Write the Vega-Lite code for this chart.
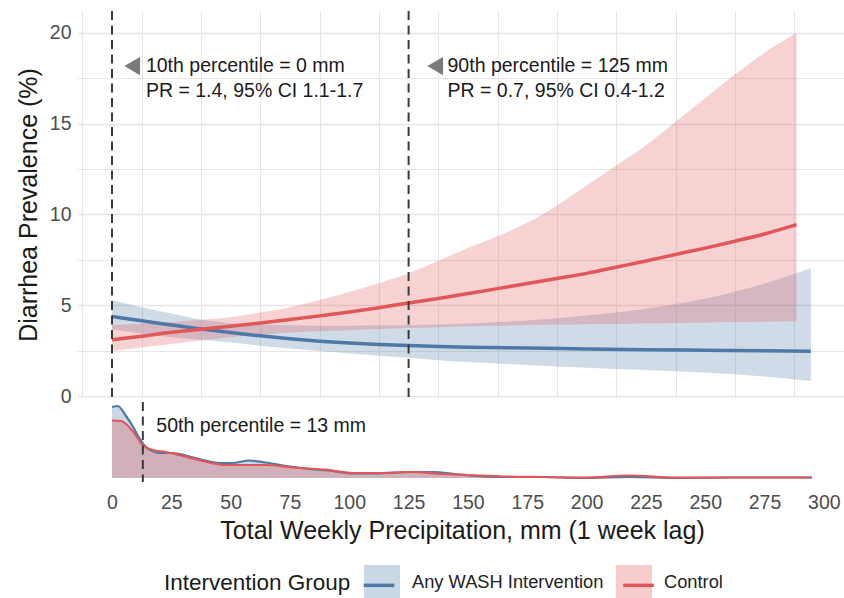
{
  "$schema": "https://vega.github.io/schema/vega-lite/v6.json",
  "padding": {"left": 16, "top": 10, "right": 0, "bottom": 0},
  "bounds": "flush",
  "config": {
    "font": "Liberation Sans",
    "view": {"stroke": null},
    "axis": {"labelColor": "#4d4d4d", "titleColor": "#1a1a1a", "titleFontWeight": "normal", "domain": false, "ticks": false, "labelFont": "Liberation Sans", "titleFont": "Liberation Sans"}
  },
  "datasets": {
    "curves": [
      {"group": "Any WASH Intervention", "x": 0, "est": 4.38, "lo": 3.68, "hi": 5.28},
      {"group": "Any WASH Intervention", "x": 12.5, "est": 4.15, "lo": 3.45, "hi": 4.9},
      {"group": "Any WASH Intervention", "x": 25, "est": 3.92, "lo": 3.25, "hi": 4.55},
      {"group": "Any WASH Intervention", "x": 37.5, "est": 3.7, "lo": 3.1, "hi": 4.22},
      {"group": "Any WASH Intervention", "x": 50, "est": 3.5, "lo": 2.95, "hi": 4.02},
      {"group": "Any WASH Intervention", "x": 62.5, "est": 3.32, "lo": 2.78, "hi": 3.95},
      {"group": "Any WASH Intervention", "x": 75, "est": 3.16, "lo": 2.62, "hi": 3.9},
      {"group": "Any WASH Intervention", "x": 87.5, "est": 3.03, "lo": 2.48, "hi": 3.88},
      {"group": "Any WASH Intervention", "x": 100, "est": 2.93, "lo": 2.35, "hi": 3.88},
      {"group": "Any WASH Intervention", "x": 112.5, "est": 2.85, "lo": 2.23, "hi": 3.9},
      {"group": "Any WASH Intervention", "x": 125, "est": 2.79, "lo": 2.12, "hi": 3.92},
      {"group": "Any WASH Intervention", "x": 137.5, "est": 2.74, "lo": 1.98, "hi": 3.95},
      {"group": "Any WASH Intervention", "x": 150, "est": 2.7, "lo": 1.88, "hi": 4.0},
      {"group": "Any WASH Intervention", "x": 175, "est": 2.65, "lo": 1.72, "hi": 4.17},
      {"group": "Any WASH Intervention", "x": 200, "est": 2.6, "lo": 1.57, "hi": 4.44},
      {"group": "Any WASH Intervention", "x": 225, "est": 2.56, "lo": 1.44, "hi": 4.81},
      {"group": "Any WASH Intervention", "x": 250, "est": 2.53, "lo": 1.3, "hi": 5.37},
      {"group": "Any WASH Intervention", "x": 275, "est": 2.5, "lo": 1.08, "hi": 6.2},
      {"group": "Any WASH Intervention", "x": 294.5, "est": 2.47, "lo": 0.83, "hi": 7.04},
      {"group": "Control", "x": 0, "est": 3.11, "lo": 2.5, "hi": 3.9},
      {"group": "Control", "x": 12.5, "est": 3.3, "lo": 2.68, "hi": 3.98},
      {"group": "Control", "x": 25, "est": 3.52, "lo": 2.87, "hi": 4.07},
      {"group": "Control", "x": 37.5, "est": 3.68, "lo": 3.06, "hi": 4.2},
      {"group": "Control", "x": 50, "est": 3.85, "lo": 3.24, "hi": 4.35},
      {"group": "Control", "x": 62.5, "est": 4.03, "lo": 3.38, "hi": 4.6},
      {"group": "Control", "x": 75, "est": 4.22, "lo": 3.5, "hi": 4.9},
      {"group": "Control", "x": 87.5, "est": 4.42, "lo": 3.57, "hi": 5.3},
      {"group": "Control", "x": 100, "est": 4.63, "lo": 3.63, "hi": 5.74},
      {"group": "Control", "x": 112.5, "est": 4.87, "lo": 3.7, "hi": 6.22},
      {"group": "Control", "x": 125, "est": 5.13, "lo": 3.75, "hi": 6.76},
      {"group": "Control", "x": 137.5, "est": 5.38, "lo": 3.8, "hi": 7.45},
      {"group": "Control", "x": 150, "est": 5.65, "lo": 3.85, "hi": 8.15},
      {"group": "Control", "x": 162.5, "est": 5.92, "lo": 3.88, "hi": 8.8},
      {"group": "Control", "x": 175, "est": 6.2, "lo": 3.92, "hi": 9.54},
      {"group": "Control", "x": 187.5, "est": 6.48, "lo": 3.94, "hi": 10.5},
      {"group": "Control", "x": 200, "est": 6.76, "lo": 3.96, "hi": 11.6},
      {"group": "Control", "x": 212.5, "est": 7.1, "lo": 3.98, "hi": 12.7},
      {"group": "Control", "x": 225, "est": 7.44, "lo": 4.0, "hi": 13.8},
      {"group": "Control", "x": 237.5, "est": 7.8, "lo": 4.03, "hi": 15.1},
      {"group": "Control", "x": 250, "est": 8.15, "lo": 4.05, "hi": 16.4},
      {"group": "Control", "x": 262.5, "est": 8.53, "lo": 4.08, "hi": 17.7},
      {"group": "Control", "x": 275, "est": 8.93, "lo": 4.1, "hi": 18.9},
      {"group": "Control", "x": 288.5, "est": 9.44, "lo": 4.13, "hi": 20.0}
    ],
    "dens": [
      {"group": "Any WASH Intervention", "x": 0, "density": 0.0355},
      {"group": "Any WASH Intervention", "x": 2.4, "density": 0.036},
      {"group": "Any WASH Intervention", "x": 5.9, "density": 0.031},
      {"group": "Any WASH Intervention", "x": 8.7, "density": 0.026},
      {"group": "Any WASH Intervention", "x": 11.5, "density": 0.02},
      {"group": "Any WASH Intervention", "x": 14.3, "density": 0.0155},
      {"group": "Any WASH Intervention", "x": 17.1, "density": 0.0135},
      {"group": "Any WASH Intervention", "x": 19.9, "density": 0.0125},
      {"group": "Any WASH Intervention", "x": 25.5, "density": 0.0125},
      {"group": "Any WASH Intervention", "x": 31.1, "density": 0.01125},
      {"group": "Any WASH Intervention", "x": 38.2, "density": 0.009},
      {"group": "Any WASH Intervention", "x": 45.2, "density": 0.0075},
      {"group": "Any WASH Intervention", "x": 50.8, "density": 0.0075},
      {"group": "Any WASH Intervention", "x": 57.8, "density": 0.00875},
      {"group": "Any WASH Intervention", "x": 64.8, "density": 0.00775},
      {"group": "Any WASH Intervention", "x": 73.3, "density": 0.006},
      {"group": "Any WASH Intervention", "x": 83.1, "density": 0.0045},
      {"group": "Any WASH Intervention", "x": 92.9, "density": 0.0035},
      {"group": "Any WASH Intervention", "x": 101.4, "density": 0.00225},
      {"group": "Any WASH Intervention", "x": 111.2, "density": 0.00225},
      {"group": "Any WASH Intervention", "x": 125.2, "density": 0.003},
      {"group": "Any WASH Intervention", "x": 135.1, "density": 0.003},
      {"group": "Any WASH Intervention", "x": 146.3, "density": 0.00175},
      {"group": "Any WASH Intervention", "x": 165, "density": 0.0005},
      {"group": "Any WASH Intervention", "x": 182, "density": 0.0005},
      {"group": "Any WASH Intervention", "x": 199, "density": 0.0},
      {"group": "Any WASH Intervention", "x": 218, "density": 0.0006},
      {"group": "Any WASH Intervention", "x": 238, "density": 0.0},
      {"group": "Any WASH Intervention", "x": 259, "density": 0.00025},
      {"group": "Any WASH Intervention", "x": 280, "density": 0.00025},
      {"group": "Any WASH Intervention", "x": 295, "density": 0.00025},
      {"group": "Control", "x": 0, "density": 0.02875},
      {"group": "Control", "x": 3.8, "density": 0.0285},
      {"group": "Control", "x": 8.7, "density": 0.0235},
      {"group": "Control", "x": 12.9, "density": 0.0165},
      {"group": "Control", "x": 17.1, "density": 0.014},
      {"group": "Control", "x": 22.7, "density": 0.013},
      {"group": "Control", "x": 28.3, "density": 0.0115},
      {"group": "Control", "x": 38.2, "density": 0.0085},
      {"group": "Control", "x": 48, "density": 0.0065},
      {"group": "Control", "x": 56.4, "density": 0.0065},
      {"group": "Control", "x": 64.8, "density": 0.0065},
      {"group": "Control", "x": 76, "density": 0.00535},
      {"group": "Control", "x": 90, "density": 0.00415},
      {"group": "Control", "x": 101.4, "density": 0.0025},
      {"group": "Control", "x": 111.2, "density": 0.0025},
      {"group": "Control", "x": 125.2, "density": 0.003},
      {"group": "Control", "x": 139.3, "density": 0.002},
      {"group": "Control", "x": 150, "density": 0.0015},
      {"group": "Control", "x": 165, "density": 0.00075},
      {"group": "Control", "x": 182, "density": 0.0005},
      {"group": "Control", "x": 199, "density": 0.00015},
      {"group": "Control", "x": 218, "density": 0.00125},
      {"group": "Control", "x": 238, "density": 0.00015},
      {"group": "Control", "x": 259, "density": 0.00025},
      {"group": "Control", "x": 280, "density": 0.00025},
      {"group": "Control", "x": 295, "density": 0.00025}
    ],
    "vlines": [{"x": 0}, {"x": 125}],
    "arrows": [{"x": 8.5, "y": 18.17}, {"x": 136.2, "y": 18.17}],
    "notes": [
      {"x": 14.3, "y": 18.17, "label": "10th percentile = 0 mm"},
      {"x": 14.3, "y": 16.8, "label": "PR = 1.4, 95% CI 1.1-1.7"},
      {"x": 141.4, "y": 18.17, "label": "90th percentile = 125 mm"},
      {"x": 141.4, "y": 16.8, "label": "PR = 0.7, 95% CI 0.4-1.2"}
    ],
    "median": [{"x": 13}],
    "medianNote": [{"x": 18.7, "density": 0.026, "label": "50th percentile = 13 mm"}]
  },
  "spacing": 4,
  "vconcat": [
    {
      "width": 770,
      "height": 387,
      "layer": [
        {
          "data": {"name": "curves"},
          "mark": {"type": "area", "fillOpacity": 0.27, "interpolate": "monotone"},
          "encoding": {
            "x": {"field": "x", "type": "quantitative", "scale": {"domain": [-14.75, 309.75], "nice": false, "zero": false},
              "axis": {"values": [-12.5, 0, 12.5, 25, 37.5, 50, 62.5, 75, 87.5, 100, 112.5, 125, 137.5, 150, 162.5, 175, 187.5, 200, 212.5, 225, 237.5, 250, 262.5, 275, 287.5, 300],
                "labels": false, "title": null, "grid": true, "gridColor": "#e6e6e6",
                "gridWidth": {"condition": {"test": "datum.value % 25 === 0", "value": 1.6}, "value": 1.1}}},
            "y": {"field": "lo", "type": "quantitative", "scale": {"domain": [-0.1, 21.2], "nice": false, "zero": false},
              "axis": {"values": [0, 2.5, 5, 7.5, 10, 12.5, 15, 17.5, 20],
                "labelExpr": "datum.value % 5 === 0 ? datum.label : ''", "labelOverlap": false,
                "labelFontSize": 19.5, "labelPadding": 6, "title": "Diarrhea Prevalence (%)", "titleFontSize": 25, "titlePadding": 8,
                "grid": true, "gridColor": "#e6e6e6",
                "gridWidth": {"condition": {"test": "datum.value % 5 === 0", "value": 1.6}, "value": 1.1}}},
            "y2": {"field": "hi"},
            "fill": {"field": "group", "type": "nominal",
              "scale": {"domain": ["Any WASH Intervention", "Control"], "range": ["#4E79A7", "#E15759"]},
              "legend": {"orient": "none", "legendX": 87, "legendY": 554, "direction": "horizontal",
                "title": "Intervention Group", "titleOrient": "left", "titleFontSize": 22.5, "titleFontWeight": "normal", "titleColor": "#1a1a1a",
                "titlePadding": 13, "titleAnchor": "middle", "titleBaseline": "middle", "titleLimit": 0,
                "labelFontSize": 18.3, "labelColor": "#222222", "labelOffset": 12, "columnPadding": 12, "labelLimit": 0,
                "symbolType": "square", "symbolSize": 1296, "symbolOpacity": 0.3, "symbolStrokeWidth": 0}}
          }
        },
        {
          "data": {"name": "curves"},
          "mark": {"type": "line", "strokeWidth": 3.5, "interpolate": "monotone"},
          "encoding": {
            "x": {"field": "x", "type": "quantitative", "scale": {"domain": [-14.75, 309.75], "nice": false, "zero": false}},
            "y": {"field": "est", "type": "quantitative", "scale": {"domain": [-0.1, 21.2], "nice": false, "zero": false}},
            "stroke": {"field": "group", "type": "nominal",
              "scale": {"range": ["#4E79A7", "#E15759"]},
              "legend": {"orient": "none", "legendX": 282, "legendY": 554, "direction": "horizontal",
                "title": null, "labelExpr": "''", "labelFontSize": 18.3, "labelOffset": 0, "columnPadding": 213.5, "labelLimit": 0,
                "symbolType": "M-0.85,0H0.85", "symbolSize": 1296, "symbolStrokeWidth": 3.5, "symbolFillColor": "transparent"}}
          }
        },
        {
          "data": {"name": "vlines"},
          "mark": {"type": "rule", "color": "#3a3a3a", "strokeWidth": 2, "strokeDash": [9, 5.5]},
          "encoding": {
            "x": {"field": "x", "type": "quantitative", "scale": {"domain": [-14.75, 309.75], "nice": false, "zero": false}}
          }
        },
        {
          "data": {"name": "arrows"},
          "mark": {"type": "point", "shape": "triangle-left", "filled": true, "color": "#7a7a7a", "opacity": 1, "size": 330},
          "encoding": {
            "x": {"field": "x", "type": "quantitative", "scale": {"domain": [-14.75, 309.75], "nice": false, "zero": false}},
            "y": {"field": "y", "type": "quantitative", "scale": {"domain": [-0.1, 21.2], "nice": false, "zero": false}}
          }
        },
        {
          "data": {"name": "notes"},
          "mark": {"type": "text", "align": "left", "baseline": "middle", "fontSize": 19.5, "color": "#1a1a1a"},
          "encoding": {
            "x": {"field": "x", "type": "quantitative", "scale": {"domain": [-14.75, 309.75], "nice": false, "zero": false}},
            "y": {"field": "y", "type": "quantitative", "scale": {"domain": [-0.1, 21.2], "nice": false, "zero": false}},
            "text": {"field": "label"}
          }
        }
      ]
    },
    {
      "width": 770,
      "height": 80,
      "layer": [
        {
          "data": {"name": "dens"},
          "mark": {"type": "area", "fillOpacity": 0.3, "interpolate": "monotone"},
          "encoding": {
            "x": {"field": "x", "type": "quantitative", "scale": {"domain": [-14.75, 309.75], "nice": false, "zero": false},
              "axis": {"values": [0, 25, 50, 75, 100, 125, 150, 175, 200, 225, 250, 275, 300], "grid": false,
                "labelFontSize": 19.5, "labelPadding": 11, "labelFlush": false, "labelOverlap": false,
                "title": "Total Weekly Precipitation, mm (1 week lag)", "titleFontSize": 25, "titlePadding": 7}},
            "y": {"field": "density", "type": "quantitative", "scale": {"domain": [-0.002, 0.038], "nice": false, "zero": false}, "axis": null},
            "y2": {"datum": 0},
            "fill": {"field": "group", "type": "nominal",
              "scale": {"domain": ["Any WASH Intervention", "Control"], "range": ["#4E79A7", "#E15759"]}, "legend": null}
          }
        },
        {
          "data": {"name": "dens"},
          "mark": {"type": "line", "strokeWidth": 2.2, "interpolate": "monotone"},
          "encoding": {
            "x": {"field": "x", "type": "quantitative", "scale": {"domain": [-14.75, 309.75], "nice": false, "zero": false}},
            "y": {"field": "density", "type": "quantitative", "scale": {"domain": [-0.002, 0.038], "nice": false, "zero": false}, "axis": null},
            "stroke": {"field": "group", "type": "nominal", "scale": {"range": ["#4E79A7", "#E15759"]}, "legend": null}
          }
        },
        {
          "data": {"name": "median"},
          "mark": {"type": "rule", "color": "#3a3a3a", "strokeWidth": 2, "strokeDash": [9, 5.5]},
          "encoding": {
            "x": {"field": "x", "type": "quantitative", "scale": {"domain": [-14.75, 309.75], "nice": false, "zero": false}}
          }
        },
        {
          "data": {"name": "medianNote"},
          "mark": {"type": "text", "align": "left", "baseline": "middle", "fontSize": 19.5, "color": "#1a1a1a"},
          "encoding": {
            "x": {"field": "x", "type": "quantitative", "scale": {"domain": [-14.75, 309.75], "nice": false, "zero": false}},
            "y": {"field": "density", "type": "quantitative", "scale": {"domain": [-0.002, 0.038], "nice": false, "zero": false}, "axis": null},
            "text": {"field": "label"}
          }
        }
      ]
    }
  ]
}
